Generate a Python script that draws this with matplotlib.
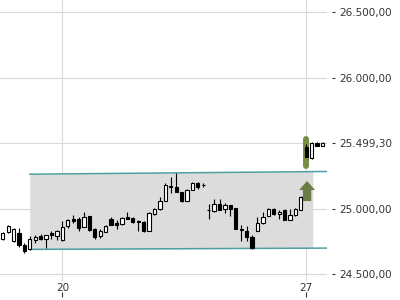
import numpy as np
import matplotlib
matplotlib.use("Agg")
import matplotlib.pyplot as plt

# Kerzen (Index, Open, High, Low, Close)
opens = [24770, 24821, 24752, 24811, 24721, 24689, 24760, 24788, 24765, 24811,
         24792, 24760, 24866, 24920, 24920, 24859, 24943, 24844, 24790, 24823,
         24918, 24887, 24879, 24933, 24928, 24905, 24899, 24831, 24958, 24996,
         25060, 25164, 25162, 25124, 25060, 25141, 25197, 25181, 24989, 24983,
         25034, 24994, 25027, 25002, 24845, 24828, 24785, 24828, 24887, 24943,
         24994, 24958, 24989, 24912, 24950, 24989, 25467, 25383, 25502, 25477]
highs = [24822, 24876, 24853, 24849, 24734, 24790, 24795, 24805, 24800, 24826,
         24836, 24905, 24920, 24950, 24937, 24970, 24945, 24853, 24846, 24874,
         24933, 24912, 24935, 24976, 24933, 24912, 24905, 24976, 25006, 25086,
         25192, 25243, 25273, 25128, 25147, 25205, 25205, 25192, 25034, 25070,
         25070, 25044, 25027, 25002, 24872, 24869, 24800, 24937, 24976, 25002,
         25002, 24989, 24996, 24994, 25004, 25098, 25492, 25505, 25505, 25505]
lows = [24760, 24815, 24742, 24704, 24658, 24683, 24734, 24760, 24701, 24765,
        24760, 24752, 24849, 24887, 24828, 24859, 24832, 24767, 24773, 24818,
        24872, 24844, 24874, 24918, 24887, 24831, 24823, 24831, 24950, 24989,
        25060, 25121, 25128, 25052, 25060, 25139, 25147, 25166, 24918, 24976,
        24989, 24963, 24943, 24841, 24752, 24752, 24690, 24828, 24882, 24940,
        24950, 24920, 24912, 24912, 24946, 24989, 25391, 25380, 25474, 25474]
closes = [24815, 24866, 24841, 24719, 24678, 24765, 24785, 24765, 24795, 24795,
          24828, 24857, 24912, 24905, 24853, 24937, 24834, 24785, 24831, 24866,
          24876, 24872, 24928, 24920, 24895, 24899, 24826, 24968, 24994, 25055,
          25179, 25172, 25128, 25057, 25139, 25197, 25166, 25179, 24985, 25034,
          24989, 25024, 24996, 24841, 24838, 24785, 24696, 24887, 24937, 24994,
          24958, 24976, 24912, 24950, 24994, 25090, 25391, 25502, 25477, 25499.3]

# Trendkanal
channel_x = [5, 61]
channel_top = [25262, 25283]
channel_bottom = [24688, 24698]
band_x = [5, 57.2]

# Signal
signal_idx = 56
signal_bar = [25321, 25534]
arrow_from = 25057
arrow_to = 25210

y_ticks = [24500, 25000, 25499.3, 26000, 26500]
y_labels = ["24.500,00", "25.000,00", "25.499,30", "26.000,00", "26.500,00"]
x_ticks = [11, 56]
x_labels = ["20", "27"]

fig = plt.figure(figsize=(4, 3), dpi=100)
ax = fig.add_axes([0, 19 / 300, 327 / 400, 281 / 300])

idx = np.arange(len(opens))
o = np.array(opens)
c = np.array(closes)
up = c >= o

# Kanal
bx = np.array(band_x)
ax.fill_between(bx, np.interp(bx, channel_x, channel_top),
                np.interp(bx, channel_x, channel_bottom),
                color="#dcdcdc", lw=0, zorder=1)
ax.plot(channel_x, channel_top, color="#4e9ea2", lw=1.1, zorder=2)
ax.plot(channel_x, channel_bottom, color="#4e9ea2", lw=1.1, zorder=2)

# Signalbalken + Pfeil
ax.plot([signal_idx, signal_idx], signal_bar, color="#7b8d44", lw=4.3,
        solid_capstyle="round", zorder=3)
ax.arrow(signal_idx + 0.15, arrow_from, 0, arrow_to - arrow_from, width=1.55,
         head_width=2.95, head_length=69, length_includes_head=True,
         color="#6b7c44", lw=0, zorder=3)

# Kerzen
ax.vlines(idx, lows, highs, color="black", lw=0.8, zorder=4)
heights = np.maximum(np.abs(c - o), 3)
ax.bar(idx, heights, bottom=np.minimum(o, c), width=0.6,
       color=np.where(up, "white", "black"), edgecolor="black", lw=0.8, zorder=5)

ax.set_xlim(-0.5, 59.83)
ax.set_ylim(24446.6, 26591.7)

ax.set_yticks(y_ticks)
ax.set_yticklabels(y_labels)
ax.set_xticks(x_ticks)
ax.set_xticklabels(x_labels)

ax.grid(True, color="#d9d9d9", lw=0.8)
ax.set_axisbelow(True)
for s in ax.spines.values():
    s.set_visible(False)

ax.yaxis.tick_right()
ax.spines["right"].set_position(("outward", 3.4))
ax.spines["bottom"].set_position(("outward", 11.5))
ax.tick_params(axis="y", direction="out", length=1.9, width=0.8, pad=3.4,
               labelsize=7.5, colors="#333333")
ax.tick_params(axis="x", direction="in", length=3.6, width=0.8, pad=-10,
               labelsize=7.5, colors="#333333")

fig.savefig("out.png", dpi=100)
